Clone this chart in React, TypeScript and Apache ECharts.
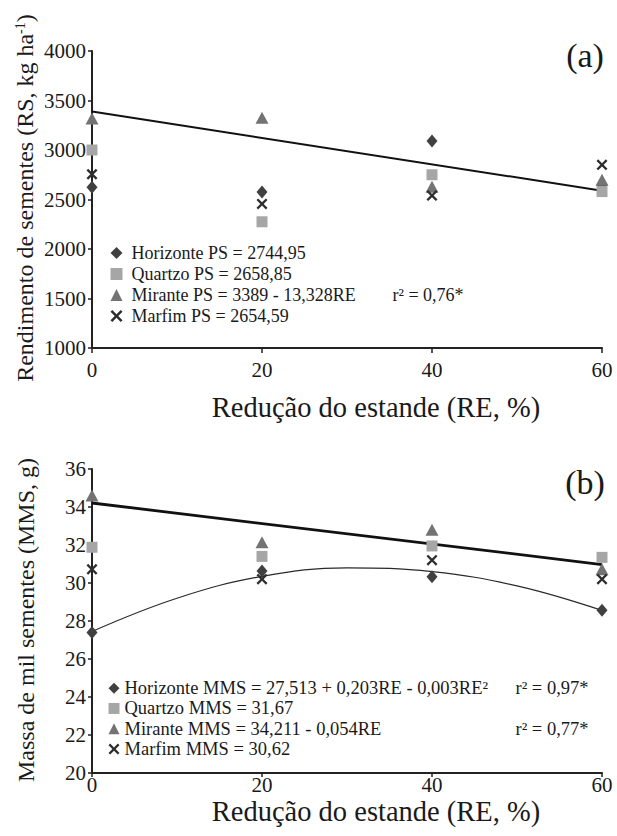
import React, { useEffect, useRef } from "react";
import * as echarts from "echarts";

// ---------- data ----------
const RE = [0, 20, 40, 60];

// Panel (a): seed yield (kg/ha)
const horizontePS = [2625, 2575, 3090, 2650];
const quartzoPS = [3000, 2275, 2750, 2580];
const mirantePS = [3318, 3325, 2630, 2700];
const marfimPS = [2755, 2455, 2540, 2850];
const miranteFitPS_x = [0, 60];
const miranteFitPS_y = [3389, 2589];

// Panel (b): thousand-seed mass (g)
const horizonteMMS = [27.4, 30.63, 30.33, 28.56];
const quartzoMMS = [31.88, 31.4, 31.95, 31.35];
const miranteMMS = [34.6, 32.15, 32.8, 30.72];
const marfimMMS = [30.72, 30.2, 31.2, 30.2];
const miranteFitMMS_x = [0, 60];
const miranteFitMMS_y = [34.211, 30.971];
const horizonteFitMMS_x = [0, 10, 20, 30, 40, 50, 60];
const horizonteFitMMS_y = [27.45, 29.2, 30.35, 30.8, 30.6, 29.85, 28.56];

const xTicks = { min: 0, max: 60, interval: 20 };
const yTicksA = { min: 1000, max: 4000, interval: 500 };
const yTicksB = { min: 20, max: 36, interval: 2 };

const legendA = [
  ["Horizonte PS = 2744,95", ""],
  ["Quartzo PS = 2658,85", ""],
  ["Mirante PS = 3389 - 13,328RE", "r² = 0,76*"],
  ["Marfim PS = 2654,59", ""],
];
const legendB = [
  ["Horizonte MMS = 27,513 + 0,203RE - 0,003RE²", "r² = 0,97*"],
  ["Quartzo MMS = 31,67", ""],
  ["Mirante MMS = 34,211 - 0,054RE", "r² = 0,77*"],
  ["Marfim MMS = 30,62", ""],
];
const cultivars = ["Horizonte", "Quartzo", "Mirante", "Marfim"];

// ---------- styles ----------
const FONT = "Liberation Serif";
const TXT = "#1a1a1a";
const colors = ["#404040", "#a6a6a6", "#737373", "#2e2e2e"];
const crossPath =
  "path://M0,1.5L1.5,0L5,3.5L8.5,0L10,1.5L6.5,5L10,8.5L8.5,10L5,6.5L1.5,10L0,8.5L3.5,5Z";
const symbols = ["diamond", "rect", "triangle", crossPath];
const symbolSizes: any[] = [[11, 13], 11, [13, 12], 11];

const zip = (xs: number[], ys: number[]) => xs.map((x, i) => [x, ys[i]]);

export default function App() {
  const ref = useRef<HTMLDivElement>(null);

  useEffect(() => {
    if (!ref.current) return;
    const chart = echarts.init(ref.current, undefined, { renderer: "svg" });

    const axisCommon = {
      axisLine: { show: true, lineStyle: { color: "#222", width: 2 } },
      axisTick: { show: true, inside: false, length: 4, lineStyle: { color: "#222", width: 1.5 } },
      splitLine: { show: false },
    };
    const plain = (v: number) => String(v);

    const xAxisA = {
      type: "value",
      gridIndex: 0,
      ...xTicks,
      ...axisCommon,
      axisTick: { ...axisCommon.axisTick, length: 5 },
      axisLabel: { fontFamily: FONT, fontSize: 21, color: TXT, margin: 11, formatter: plain },
    };
    const xAxisB = {
      type: "value",
      gridIndex: 1,
      ...xTicks,
      ...axisCommon,
      axisLabel: { fontFamily: FONT, fontSize: 21, color: TXT, margin: 1, formatter: plain },
    };
    const yAxisA = {
      type: "value",
      gridIndex: 0,
      ...yTicksA,
      ...axisCommon,
      axisLabel: { fontFamily: FONT, fontSize: 21, color: TXT, margin: 6, formatter: plain },
    };
    const yAxisB = {
      type: "value",
      gridIndex: 1,
      ...yTicksB,
      ...axisCommon,
      axisLabel: { fontFamily: FONT, fontSize: 21, color: TXT, margin: 6, formatter: plain },
    };

    const dataA = [horizontePS, quartzoPS, mirantePS, marfimPS];
    const dataB = [horizonteMMS, quartzoMMS, miranteMMS, marfimMMS];

    const scatterSeries = (panel: "A" | "B") =>
      cultivars.map((c, i) => ({
        name: c + " " + panel,
        type: "scatter",
        xAxisIndex: panel === "A" ? 0 : 1,
        yAxisIndex: panel === "A" ? 0 : 1,
        symbol: symbols[i],
        symbolSize: symbolSizes[i],
        itemStyle: { color: colors[i], opacity: 1 },
        data: zip(RE, panel === "A" ? dataA[i] : dataB[i]),
        z: 3,
      }));

    const legendFormatter = (rows: string[][]) => (name: string) => {
      const idx = cultivars.findIndex((c) => name.startsWith(c));
      const [eq, r2] = rows[idx];
      if (r2) return `{w|${eq}}{r|${r2}}`;
      return `{a|${eq}}`;
    };

    const richFor = (fs: number, width: number, padLeft: number, lh: number) => ({
      a: { fontFamily: FONT, fontSize: fs, color: TXT, padding: [0, 0, 0, padLeft], lineHeight: lh },
      w: { fontFamily: FONT, fontSize: fs, color: TXT, padding: [0, 0, 0, padLeft], width: width, lineHeight: lh },
      r: { fontFamily: FONT, fontSize: fs, color: TXT, lineHeight: lh },
    });

    const option: any = {
      animation: false,
      backgroundColor: "#ffffff",
      grid: [
        { left: 92, top: 51, width: 510, height: 297, containLabel: false },
        { left: 92, top: 469, width: 510, height: 304, containLabel: false },
      ],
      xAxis: [xAxisA, xAxisB],
      yAxis: [yAxisA, yAxisB],
      legend: [
        {
          orient: "vertical",
          left: 110.5,
          top: 242.5,
          padding: 0,
          itemGap: 0,
          itemWidth: 12,
          itemHeight: 12,
          selectedMode: false,
          data: cultivars.map((c) => c + " A"),
          formatter: legendFormatter(legendA),
          textStyle: {
            fontFamily: FONT,
            fontSize: 18,
            color: TXT,
            lineHeight: 21,
            rich: richFor(18, 261, 4, 21),
          },
        },
        {
          orient: "vertical",
          left: 108.5,
          top: 678,
          padding: 0,
          itemGap: 0,
          itemWidth: 11,
          itemHeight: 11,
          selectedMode: false,
          data: cultivars.map((c) => c + " B"),
          formatter: legendFormatter(legendB),
          textStyle: {
            fontFamily: FONT,
            fontSize: 18.5,
            color: TXT,
            lineHeight: 20.3,
            rich: richFor(18.5, 391, 0, 20.3),
          },
        },
      ],
      series: [
        {
          name: "fitA",
          type: "line",
          xAxisIndex: 0,
          yAxisIndex: 0,
          symbol: "none",
          lineStyle: { color: "#111", width: 2 },
          data: zip(miranteFitPS_x, miranteFitPS_y),
          z: 2,
        },
        ...scatterSeries("A"),
        {
          name: "fitB1",
          type: "line",
          xAxisIndex: 1,
          yAxisIndex: 1,
          symbol: "none",
          lineStyle: { color: "#111", width: 2.8 },
          data: zip(miranteFitMMS_x, miranteFitMMS_y),
          z: 2,
        },
        {
          name: "fitB2",
          type: "line",
          xAxisIndex: 1,
          yAxisIndex: 1,
          symbol: "none",
          smooth: 0.4,
          lineStyle: { color: "#2a2a2a", width: 1.2 },
          data: zip(horizonteFitMMS_x, horizonteFitMMS_y),
          z: 2,
        },
        ...scatterSeries("B"),
      ],
      graphic: [
        {
          type: "text",
          x: 585,
          y: 55,
          style: { text: "(a)", fontFamily: FONT, fontSize: 34, fill: TXT, textAlign: "center", textVerticalAlign: "middle" },
        },
        {
          type: "text",
          x: 585,
          y: 482,
          style: { text: "(b)", fontFamily: FONT, fontSize: 34, fill: TXT, textAlign: "center", textVerticalAlign: "middle" },
        },
        {
          type: "text",
          x: 376,
          y: 407,
          style: { text: "Redução do estande (RE, %)", fontFamily: FONT, fontSize: 28.5, fill: TXT, textAlign: "center", textVerticalAlign: "middle" },
        },
        {
          type: "text",
          x: 376,
          y: 811,
          style: { text: "Redução do estande (RE, %)", fontFamily: FONT, fontSize: 28.5, fill: TXT, textAlign: "center", textVerticalAlign: "middle" },
        },
        {
          type: "text",
          x: 25,
          y: 198,
          rotation: Math.PI / 2,
          style: {
            text: "Rendimento de sementes (RS, kg ha{s|-1})",
            fontFamily: FONT,
            fontSize: 24,
            fill: TXT,
            textAlign: "center",
            textVerticalAlign: "middle",
            rich: { s: { fontFamily: FONT, fontSize: 14, fill: TXT, verticalAlign: "top" } },
          },
        },
        {
          type: "text",
          x: 26,
          y: 620,
          rotation: Math.PI / 2,
          style: {
            text: "Massa de mil sementes (MMS, g)",
            fontFamily: FONT,
            fontSize: 24,
            fill: TXT,
            textAlign: "center",
            textVerticalAlign: "middle",
          },
        },
      ],
    };

    chart.setOption(option);
    return () => chart.dispose();
  }, []);

  return (
    <div
      ref={ref}
      style={{ position: "absolute", left: 0, top: 0, width: 617, height: 836, background: "#fff" }}
    />
  );
}
